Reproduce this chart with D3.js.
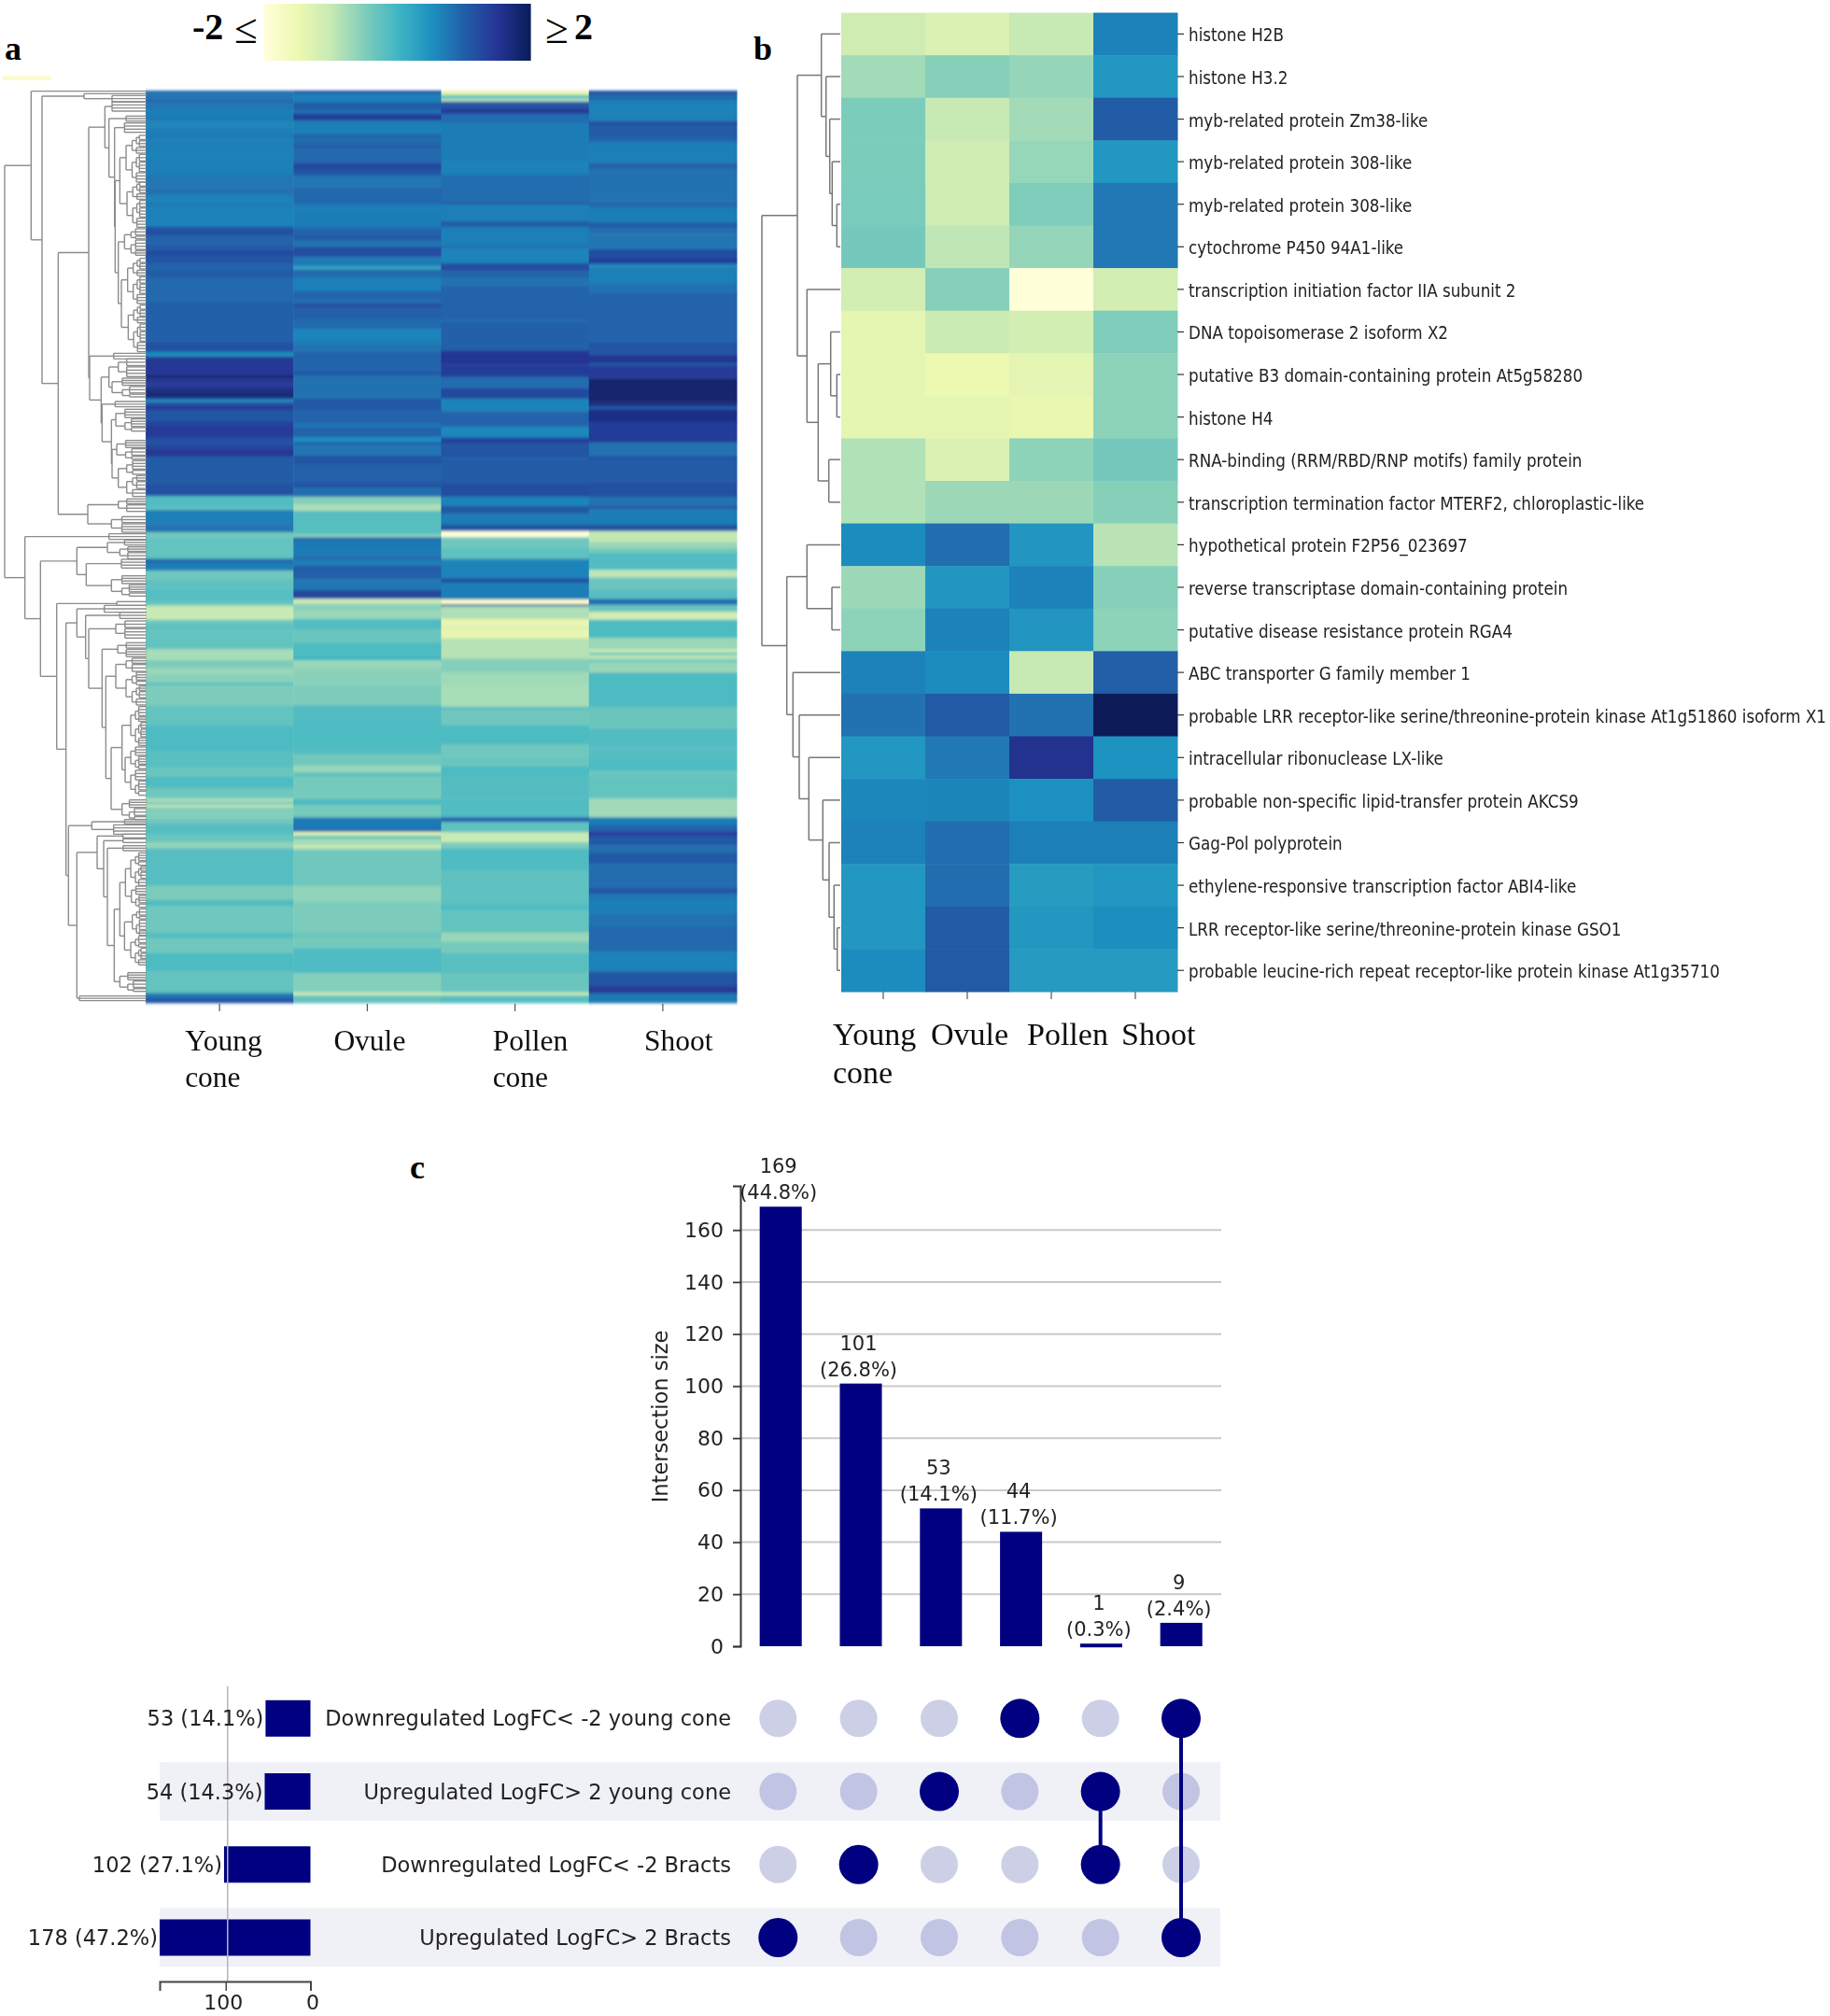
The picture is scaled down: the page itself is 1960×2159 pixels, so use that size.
<!DOCTYPE html>
<html><head><meta charset="utf-8">
<style>html,body{margin:0;padding:0;background:#fff}svg{display:block}</style>
<script src="https://cdn.jsdelivr.net/npm/d3@7/dist/d3.min.js"></script></head>
<body><svg id="c" width="1960" height="2159"></svg>
<script>
// ---------- DATA ----------
const tissues = ["Young cone","Ovule","Pollen cone","Shoot"];
const tissueLinesA = [["Young","cone"],["Ovule"],["Pollen","cone"],["Shoot"]];
const tissueLinesB = [["Young","cone"],["Ovule"],["Pollen"],["Shoot"]];
// panel a: runs of [last row, log-scaled value] per section of the row list
const heatYoung = [
 [[10,0.85],[25,0.75],[38,0.9],[60,0.75],[75,0.65],[100,0.7],[115,0.6],[140,0.65],[160,0.7],[200,0.65],[215,0.6],[270,0.65],[310,0.75],[335,0.8],[365,0.62],[372,0.75],[438,0.62],[465,1.2],[490,0.95],[515,1.05],[528,1.3],[555,1.15],[575,0.95],[600,1.05],[680,0.9],[735,1.0]],
 [[75,1.0],[105,1.2],[120,0.5],[180,1.55],[190,1.9],[205,1.6],[222,1.5],[232,1.8],[252,1.85],[258,1.2],[265,0.4],[278,1.15],[290,1.55],[330,1.15],[345,1.4],[380,1.5],[400,1.2],[415,1.35],[440,1.55],[530,1.05],[568,1.2],[605,-0.05],[612,-0.25],[655,0.65],[680,0.75],[683,1.1],[700,-0.3],[735,-0.2]],
 [[30,-0.2],[35,-0.1],[45,1.0],[72,0.7],[100,-0.3],[130,-0.15],[170,-0.1],[185,-0.25],[230,-0.95],[243,-0.3],[265,-0.15],[325,-0.2],[360,-0.7],[385,-0.4],[405,-0.6],[432,-0.5],[440,-0.1],[505,-0.4],[570,-0.2],[655,-0.02],[705,-0.12],[735,-0.25]],
 [[35,-0.03],[70,-0.3],[80,-0.75],[90,-0.4],[97,-0.9],[135,-0.45],[150,-0.3],[185,-0.1],[210,-0.25],[230,-0.55],[350,-0.1],[395,-0.4],[415,-0.05],[500,-0.3],[520,-0.1],[565,-0.3],[625,-0.02],[695,-0.2],[710,0.75],[726,1.1]]
];
const heatOvule = [
 [[8,1.2],[38,0.65],[60,1.05],[75,0.85],[97,1.45],[140,0.65],[150,0.95],[170,0.9],[190,1.0],[232,0.9],[252,1.3],[272,1.15],[310,0.75],[365,0.92],[395,0.65],[440,0.7],[465,0.95],[480,1.1],[503,0.8],[535,1.25],[565,0.7],[575,0.3],[600,0.9],[645,0.65],[668,0.95],[682,0.85],[700,1.2],[735,1.0]],
 [[30,0.9],[65,0.6],[80,0.65],[105,0.8],[170,0.95],[180,1.15],[255,0.8],[290,1.1],[335,0.95],[345,0.7],[378,0.95],[395,0.5],[402,1.1],[438,0.75],[465,1.15],[520,1.0],[540,1.15],[570,0.85],[595,-0.45],[615,-0.75],[690,-0.1],[700,-0.5],[710,0.9],[735,0.72]],
 [[25,0.7],[38,0.9],[55,0.65],[72,1.05],[100,1.0],[135,0.75],[163,1.3],[178,-1.0],[200,-0.5],[228,-0.6],[260,-0.05],[305,-0.25],[350,-0.02],[360,0.1],[385,-0.6],[440,-0.5],[505,-0.4],[555,-0.05],[640,-0.02],[660,-0.05],[700,-0.3],[720,-0.6],[735,-0.2]],
 [[72,-0.35],[90,0],[130,-0.35],[170,0.72],[176,1.1],[188,-1.3],[200,-0.3],[220,-0.7],[230,-1.0],[235,-0.5],[350,-0.3],[400,-0.55],[500,-0.4],[515,-0.25],[550,-0.35],[630,-0.03],[692,-0.45],[702,-1],[726,-0.2]]
];
const heatPollen = [
 [[14,-1.35],[28,-0.2],[35,-1.0],[55,1.1],[75,1.45],[105,0.85],[225,0.68],[270,0.62],[355,0.85],[365,1.05],[420,0.65],[438,1.05],[500,0.65],[508,0.9],[555,0.6],[580,1.25],[600,0.95],[625,0.8],[735,0.95]],
 [[8,0.85],[100,1.0],[145,1.6],[185,1.45],[220,0.85],[255,1.3],[295,0.6],[345,0.95],[380,0.55],[400,1.4],[445,1.15],[530,1.05],[570,1.25],[600,0.6],[625,1.1],[660,0.7],[680,1.15],[700,-2.0],[735,-0.3]],
 [[35,-0.15],[98,0.6],[110,1.35],[165,0.65],[180,-1.75],[187,1.0],[228,-0.75],[250,-1.35],[262,-1.2],[290,-1.35],[355,-0.8],[400,-0.45],[445,-0.65],[510,-0.7],[520,-0.1],[570,-0.3],[630,-0.02],[670,-0.3],[700,-0.25],[735,-0.02]],
 [[70,-0.08],[130,-0.05],[145,1.0],[178,-0.15],[210,-0.95],[230,-0.4],[300,-0.03],[410,-0.15],[430,-0.03],[500,-0.2],[530,-0.6],[565,-0.35],[630,-0.12],[692,-0.25],[702,-0.95],[726,-0.1]]
];
const heatShoot = [
 [[12,1.15],[32,0.9],[97,0.62],[110,1.2],[150,1.05],[165,0.95],[232,0.65],[252,0.95],[355,0.8],[375,0.9],[425,0.7],[440,1.05],[460,0.85],[510,0.75],[540,1.25],[557,1.45],[565,0.5],[620,0.65],[650,0.8],[735,0.95]],
 [[75,0.95],[115,1.15],[140,1.6],[150,1.1],[190,1.5],[265,1.95],[278,1.8],[290,1.1],[330,1.7],[395,1.45],[440,0.8],[450,1.2],[520,1.05],[570,1.2],[600,0.8],[610,1.1],[660,0.7],[680,1.15],[715,-0.9],[735,-0.6]],
 [[15,-0.35],[70,-0.05],[95,-0.85],[135,-0.25],[163,-0.1],[182,0.85],[205,-0.25],[230,-1.05],[288,-0.02],[325,-0.6],[335,-1],[345,-0.4],[355,-0.9],[370,-0.4],[400,-0.6],[510,-0.02],[580,-0.25],[640,-0.05],[680,-0.1],[715,-0.02],[735,-0.25]],
 [[70,-0.2],[130,-0.65],[155,0.7],[175,0.95],[188,1.5],[220,1.1],[245,0.85],[280,1.1],[355,0.85],[375,1.15],[395,0.75],[440,0.65],[480,0.8],[560,0.9],[625,0.62],[670,1.15],[695,1.5],[726,0.72]]
];
// panel a dendrogram: [merge distance, child, child]; two plain numbers = a tight leaf group over that row span
const treeA = [455,
 [370, 8,
  [335,
   [200, 16, [110,22,42]],
   [283,
    [185,
     [133,[110,42,72],[120,[65,88,104],[102,[70,110,140],
       [100,[85,[65,150,300],[62,300,445]],[90,[70,450,535],[80,[60,545,690],[58,695,845]]]]]]],
     [182,[105,850,868],
       [145,[120,[90,868,925],[110,930,990]],[142,[100,1005,1022],[112,[98,1030,1100],[110,[95,1130,1190],[90,1195,1310]]]]]]],
    [188,[90,1318,1358],[112,1375,1425]]]]],
 [390,
  [120,1430,1448],
  [340,
   [223,[125,[70,1450,1466],[85,1472,1510]],[193,[80,1512,1540],[112,1565,1630]]],
   [288,
    [95,1648,1660],
    [258,
     [223,[135,1660,1682],[195,[85,1682,1702],[185,[98,1710,1765],[142,[92,1780,1825],
        [130,[98,[65,1830,1872],[65,1875,1980]],[113,[78,[50,1985,2110],[68,[50,2115,2185],[50,2190,2270]]],[78,2285,2348]]]]]]],
     [250,[175,[70,2348,2362],[105,2365,2395]],
      [223,
       [158,[75,2395,2407],[137,[75,2410,2422],[125,[75,2432,2448],
         [103,[85,[67,[50,2455,2560],[48,2562,2630]],[70,[45,2635,2720],[50,2722,2815]]],[85,2840,2900]]]]],
       [215,2915,2930]]]]]]]];
// panel b
const geneNames = ["histone H2B","histone H3.2","myb-related protein Zm38-like","myb-related protein 308-like","myb-related protein 308-like","cytochrome P450 94A1-like","transcription initiation factor IIA subunit 2","DNA topoisomerase 2 isoform X2","putative B3 domain-containing protein At5g58280","histone H4","RNA-binding (RRM/RBD/RNP motifs) family protein","transcription termination factor MTERF2, chloroplastic-like","hypothetical protein F2P56_023697","reverse transcriptase domain-containing protein","putative disease resistance protein RGA4","ABC transporter G family member 1","probable LRR receptor-like serine/threonine-protein kinase At1g51860 isoform X1","intracellular ribonuclease LX-like","probable non-specific lipid-transfer protein AKCS9","Gag-Pol polyprotein","ethylene-responsive transcription factor ABI4-like","LRR receptor-like serine/threonine-protein kinase GSO1","probable leucine-rich repeat receptor-like protein kinase At1g35710"];
const geneYoung = [-1.1,-0.75,-0.47,-0.47,-0.45,-0.42,-1.15,-1.4,-1.4,-1.4,-0.85,-0.85,0.55,-0.7,-0.6,0.65,0.8,0.42,0.6,0.65,0.42,0.42,0.55];
const geneOvule = [-1.25,-0.55,-1.0,-1.1,-1.1,-0.95,-0.55,-1.05,-1.5,-1.4,-1.25,-0.7,0.85,0.45,0.65,0.55,1.05,0.75,0.62,0.85,0.85,1.03,1.05];
const genePollen = [-1.0,-0.65,-0.75,-0.67,-0.5,-0.65,-2,-1.15,-1.38,-1.45,-0.6,-0.7,0.45,0.65,0.45,-1.0,0.8,1.55,0.5,0.68,0.35,0.4,0.38];
const geneShoot = [0.65,0.42,1.02,0.42,0.75,0.75,-1.15,-0.5,-0.6,-0.6,-0.42,-0.55,-0.9,-0.55,-0.6,1.0,2.0,0.47,1.02,0.68,0.42,0.52,0.38];
// panel b dendrogram: [merge distance, child, child]; numbers are row indices
const treeB = [84,
 [46,
  [20.3,0,[15.3,1,[11.3,2,[8.7,3,[3.7,4,5]]]]],
  [35.7,6,[23.7,[10.3,7,[3.7,8,9]],[12.3,10,11]]]],
 [57.3,
  [35.7,12,[9,13,14]],
  [50.7,15,[44,16,[33.7,17,[18.7,18,[12,19,[6.7,20,[3.3,21,22]]]]]]]]];
// panel c
const setNames = ["Downregulated LogFC< -2 young cone","Upregulated LogFC> 2 young cone","Downregulated LogFC< -2 Bracts","Upregulated LogFC> 2 Bracts"];
const setSizes = [53,54,102,178];
const setPercents = ["14.1%","14.3%","27.1%","47.2%"];
const interSizes = [169,101,53,44,1,9];
const interPercents = ["44.8%","26.8%","14.1%","11.7%","0.3%","2.4%"];
const interMembers = [[3],[2],[1],[0],[1,2],[0,3]];
const yTicksC = d3.range(0,161,20);
const panelLetters = ["a","b","c"];

// ---------- SETUP ----------
const svg = d3.select("#c");
const defs = svg.append("defs");
function blurFilter(id,dev){
  defs.append("filter").attr("id",id).attr("filterUnits","userSpaceOnUse")
    .attr("x",0).attr("y",0).attr("width",1960).attr("height",2159)
    .append("feGaussianBlur").attr("stdDeviation",dev);
}
blurFilter("softA","0.3 1.5");
blurFilter("softB","0.7");
blurFilter("softC","0.6");
blurFilter("softT","0.35");
const root = svg.append("g");
const SERIF = "'Liberation Serif',serif";
const SANS = "'DejaVu Sans',sans-serif";
const color = d3.scaleLinear().domain(d3.range(-2,2.01,0.5)).range(d3.schemeYlGnBu[9]).clamp(true);
// the source picture renders the dense panel with a little less contrast
const heatColor = v => color(v>0.3 ? 0.85+(v-0.85)*0.88 : v-0.08);

// ---------- legend + letters ----------
const legendX = d3.scaleLinear().domain([-2,2]).range([283,568]);
root.append("g").selectAll("rect").data(d3.range(-2,2,4/285)).join("rect")
  .attr("x",d=>legendX(d)).attr("y",4).attr("width",1.6).attr("height",61).attr("fill",d=>color(d));
const lg = root.append("g").attr("font-family",SERIF).attr("fill","#000");
lg.append("text").attr("x",206).attr("y",42).attr("font-size",40).attr("font-weight","bold").text("-2");
lg.append("text").attr("x",251).attr("y",46).attr("font-size",45).text("≤");
lg.append("text").attr("x",584).attr("y",46).attr("font-size",45).text("≥");
lg.append("text").attr("x",615).attr("y",42).attr("font-size",40).attr("font-weight","bold").text("2");
root.append("rect").attr("x",3).attr("y",81).attr("width",52).attr("height",5).attr("fill","#fbfbd2");
const letterX = [5,807,439];
const letterY = [64,64,1262];
panelLetters.forEach((t,i)=>{
  root.append("text").attr("x",letterX[i]).attr("y",letterY[i])
    .attr("font-family",SERIF).attr("font-weight","bold").attr("font-size",36).text(t);
});

// ---------- panel a heatmap ----------
const xA = d3.scaleBand().domain(tissues).range([156,789]);
const yA = d3.scaleLinear().domain([0,2931]).range([97,1074]);
const heatCols = [heatYoung,heatOvule,heatPollen,heatShoot];
const gA = root.append("g").attr("filter","url(#softA)");
heatCols.forEach(function(sections,c){
  const runs=[]; let prev=0;
  sections.forEach(function(sec,i){
    sec.forEach(function(run){
      const e=run[0]+735*i;
      runs.push({a:prev,b:e,v:run[1]});
      prev=e;
    });
  });
  gA.append("g").selectAll("rect").data(runs).join("rect")
    .attr("x",xA(tissues[c])).attr("width",xA.bandwidth()+0.5)
    .attr("y",d=>yA(d.a)).attr("height",d=>yA(d.b)-yA(d.a)+0.4).attr("fill",d=>heatColor(d.v));
});
// panel a dendrogram
const dxA = d3.scaleLinear().domain([0,470]).range([156.7,0]);
const dyA = d3.scaleLinear().domain([0,2940]).range([95,1075]);
const gDA = root.append("g").attr("fill","none").attr("stroke","#8c8c8c").attr("stroke-width",1.4);
function seg(g,x1,y1,x2,y2){ g.append("line").attr("x1",x1).attr("y1",y1).attr("x2",x2).attr("y2",y2); }
function link(sx,sy,g,d,p,q){
  seg(g,sx(d),sy(p.y),sx(d),sy(q.y));
  seg(g,sx(d),sy(p.y),sx(p.d),sy(p.y));
  seg(g,sx(d),sy(q.y),sx(q.d),sy(q.y));
}
function tipGroup(d,a,b,depth){
  const n=Math.round((b-a)/9);
  if(n<=3){
    const step=Math.max((b-a)/Math.max(n,1),1);
    for(let r=a;r<=b+0.1;r+=step){ seg(gDA,dxA(d),dyA(r),dxA(0),dyA(r)); }
    seg(gDA,dxA(d),dyA(a),dxA(d),dyA(b));
    return {y:(a+b)/2,d:d};
  }
  const m=a+(b-a)*(depth%2?0.62:0.38);
  const dc=Math.max(d*0.7,9);
  const p=tipGroup(dc,a,m,depth+1);
  const q=tipGroup(dc,m+4,b,depth+1);
  link(dxA,dyA,gDA,d,p,q);
  return {y:(p.y+q.y)/2,d:d};
}
function walkA(n){
  if(typeof n==="number"){ return {y:n,d:0}; }
  if(typeof n[1]==="number"&&typeof n[2]==="number"){ return tipGroup(n[0],n[1],n[2],0); }
  const a=walkA(n[1]);
  const b=walkA(n[2]);
  link(dxA,dyA,gDA,n[0],a,b);
  return {y:(a.y+b.y)/2,d:n[0]};
}
walkA(treeA);
// axis ticks + labels panel a
const gXA=root.append("g").attr("transform","translate(0,1075)")
  .call(d3.axisBottom(xA).tickSize(8).tickFormat(""));
gXA.select(".domain").remove(); gXA.selectAll("line").attr("stroke","#555").attr("stroke-width",1.2);
const labelShiftA=[-37,-36,-24,-20];
const gLA=root.append("g").attr("filter","url(#softT)");
tissueLinesA.forEach(function(lines,c){
  const x=xA(tissues[c])+xA.bandwidth()/2+labelShiftA[c];
  lines.forEach(function(w,i){
    gLA.append("text").attr("x",x).attr("y",1124.5+39*i)
      .attr("font-family",SERIF).attr("font-size",31.5).attr("fill","#111").text(w);
  });
});

// ---------- panel b ----------
const xB = d3.scaleBand().domain(tissues).range([901,1261]);
const yB = d3.scaleBand().domain(d3.range(geneNames.length)).range([13.6,1062]);
const geneCols=[geneYoung,geneOvule,genePollen,geneShoot];
const gB=root.append("g").attr("filter","url(#softB)");
geneCols.forEach(function(col,c){
  gB.append("g").selectAll("rect").data(col).join("rect")
    .attr("x",xB(tissues[c])).attr("width",xB.bandwidth()+0.5)
    .attr("y",(d,i)=>yB(i)).attr("height",yB.bandwidth()+0.5).attr("fill",d=>color(d));
});
const gYB=root.append("g").attr("transform","translate(1261,0)").attr("filter","url(#softT)")
  .call(d3.axisRight(yB).tickSize(7).tickPadding(5).tickFormat(i=>geneNames[i]));
gYB.select(".domain").remove();
gYB.selectAll("line").attr("stroke","#333").attr("stroke-width",1.2);
gYB.selectAll("text").attr("font-family",SANS).style("font-stretch","condensed").attr("font-size",18.65).attr("fill","#222")
  .attr("y",2);
const gXB=root.append("g").attr("transform","translate(0,1062)")
  .call(d3.axisBottom(xB).tickSize(8).tickFormat(""));
gXB.select(".domain").remove(); gXB.selectAll("line").attr("stroke","#555").attr("stroke-width",1.2);
const labelShiftB=[-54,-39,-26,-15];
const gLB=root.append("g").attr("filter","url(#softT)");
tissueLinesB.forEach(function(lines,c){
  const x=xB(tissues[c])+xB.bandwidth()/2+labelShiftB[c];
  lines.forEach(function(w,i){
    gLB.append("text").attr("x",x).attr("y",1118.5+41*i)
      .attr("font-family",SERIF).attr("font-size",34).attr("fill","#111").text(w);
  });
});
// panel b dendrogram
const dxB=d3.scaleLinear().domain([0,84]).range([900,816]);
const gDB=root.append("g").attr("fill","none").attr("stroke","#777").attr("stroke-width",1.5);
function rowY(i){ return yB(i)+yB.bandwidth()/2; }
function walkB(n){
  if(typeof n==="number"){ return {y:rowY(n),d:0}; }
  const a=walkB(n[1]);
  const b=walkB(n[2]);
  link(dxB,v=>v,gDB,n[0],a,b);
  return {y:(a.y+b.y)/2,d:n[0]};
}
walkB(treeB);

// ---------- panel c ----------
const xC=d3.scaleBand().domain(d3.range(interSizes.length)).range([793.3,1308.1]).paddingInner(0.475).paddingOuter(0.2375);
const yC=d3.scaleLinear().domain([0,177]).range([1763,1270]);
const gC=root.append("g").attr("filter","url(#softC)");
gC.append("g").selectAll("line").data(yTicksC.slice(1)).join("line")
  .attr("x1",785).attr("x2",1308).attr("y1",d=>yC(d)).attr("y2",d=>yC(d)).attr("stroke","#c9c9c9").attr("stroke-width",2);
const gYC=gC.append("g").attr("transform","translate(793,0)")
  .call(d3.axisLeft(yC).tickValues(yTicksC).tickSize(8).tickPadding(10));
gYC.select(".domain").attr("stroke","#333").attr("stroke-width",2);
gYC.selectAll("line").attr("stroke","#333").attr("stroke-width",1.5);
gYC.selectAll("text").attr("font-family",SANS).attr("font-size",22).attr("fill","#222");
gC.append("text").attr("transform","translate(715,1517) rotate(-90)").attr("text-anchor","middle")
  .attr("font-family",SANS).attr("font-size",22.5).attr("fill","#222").text("Intersection size");
gC.append("g").selectAll("rect").data(interSizes).join("rect")
  .attr("x",(d,i)=>xC(i)).attr("width",xC.bandwidth()).attr("y",d=>yC(d)).attr("height",d=>Math.max(yC(0)-yC(d),4)).attr("fill","#000080");
const barLabels=gC.append("g").attr("font-family",SANS).attr("font-size",21).attr("fill","#222").attr("text-anchor","middle");
interSizes.forEach(function(v,i){
  const cx=xC(i)+xC.bandwidth()/2-2.5;
  barLabels.append("text").attr("x",cx).attr("y",yC(v)-36).text(v);
  barLabels.append("text").attr("x",cx).attr("y",yC(v)-8).text("("+interPercents[i]+")");
});
// matrix
const yM=d3.scalePoint().domain(d3.range(setNames.length)).range([1840.3,2075]);
const xM=d3.scalePoint().domain(d3.range(interSizes.length)).range([833.3,1265]);
const gM=root.append("g").attr("filter","url(#softC)");
gM.selectAll("rect.stripe").data([1,3]).join("rect").attr("class","stripe")
  .attr("x",171).attr("width",1136).attr("y",r=>yM(r)-31.4).attr("height",62.7).attr("fill","#f0f1f7");
const barL=d3.scaleLinear().domain([0,178]).range([332.5,171]);
gM.append("g").selectAll("rect").data(setSizes).join("rect")
  .attr("x",d=>barL(d)).attr("width",d=>barL(0)-barL(d)).attr("y",(d,i)=>yM(i)-19.5).attr("height",39).attr("fill","#000080");
interSizes.forEach(function(v,c){
  setNames.forEach(function(s,r){
    const on=interMembers[c].includes(r);
    gM.append("circle").attr("cx",xM(c)).attr("cy",yM(r)).attr("r",on?21:20)
      .attr("fill",on?"#000080":(r%2?"#c1c4e2":"#cdcfe7"));
  });
  const m=interMembers[c];
  if(m.length>1){
    gM.append("line").attr("x1",xM(c)).attr("x2",xM(c)).attr("y1",yM(d3.min(m))).attr("y2",yM(d3.max(m)))
      .attr("stroke","#000080").attr("stroke-width",4);
  }
});
gM.append("line").attr("x1",barL(100)+2).attr("x2",barL(100)+2).attr("y1",1806).attr("y2",2122).attr("stroke","#b5b5b5").attr("stroke-width",1.5);
const gXL=gM.append("g").attr("transform","translate(0,2122)").call(d3.axisBottom(barL).tickValues([100,0]).tickSize(10).tickPadding(4));
gXL.select(".domain").attr("stroke","#444").attr("stroke-width",2);
gXL.selectAll("line").attr("stroke","#444").attr("stroke-width",1.5);
gXL.selectAll("text").attr("font-family",SANS).attr("font-size",22).attr("fill","#222").attr("x",d=>d===100?-3:2);
const setLab=gM.append("g").attr("font-family",SANS).attr("font-size",22.5).attr("fill","#222").attr("dominant-baseline","central");
setNames.forEach(function(s,r){
  setLab.append("text").attr("x",783).attr("y",yM(r)).attr("text-anchor","end").text(s);
  setLab.append("text").attr("x",barL(setSizes[r])-2).attr("y",yM(r)).attr("text-anchor","end").text(setSizes[r]+" ("+setPercents[r]+")");
});
</script></body></html>
